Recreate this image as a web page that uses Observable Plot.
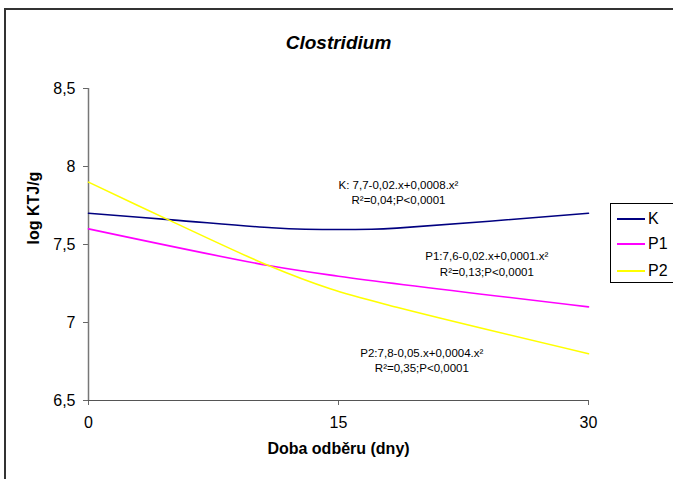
<!DOCTYPE html>
<html>
<head>
<meta charset="utf-8">
<script src="https://cdn.jsdelivr.net/npm/d3@7"></script>
<script src="https://cdn.jsdelivr.net/npm/@observablehq/plot@0.6"></script>
<style>
  html, body { margin: 0; padding: 0; background: #fff; }
  #wrap { position: relative; width: 673px; height: 479px; overflow: hidden; font-family: "Liberation Sans", Arial, sans-serif; }
  #border { position: absolute; left: 4px; top: 8px; width: 700px; height: 500px; border-left: 2px solid #333; border-top: 2px solid #333; box-sizing: border-box; pointer-events: none; }
  #legend { position: absolute; left: 610px; top: 203px; width: 80px; height: 80px; border: 1px solid #000; box-sizing: border-box; background: #fff; font-size: 16px; }
  .item { position: absolute; left: 6px; height: 20px; display: flex; align-items: center; }
  .swatch { width: 28px; height: 0; border-top: 2px solid; margin-right: 3px; }
</style>
</head>
<body>
<div id="wrap">
  <div id="chart"></div>
  <div id="border"></div>
  <div id="legend"></div>
</div>
<script>
// Series data (x = days, y = log KTJ/g)
const seriesNames = ["K", "P1", "P2"];
const seriesColors = ["#000080", "#FF00FF", "#FFFF00"];
const kDays = [0, 5, 11, 13, 17, 18.5, 30];
const kValues = [7.70, 7.658, 7.607, 7.598, 7.598, 7.605, 7.70];
const p1Days = [0, 10.8, 15, 30];
const p1Values = [7.60, 7.365, 7.297, 7.10];
const p2Days = [0, 4.8, 10.8, 14.5, 18.5, 30];
const p2Values = [7.90, 7.658, 7.365, 7.216, 7.098, 6.80];
const xTicks = [0, 15, 30];
const yTicks = [6.5, 7, 7.5, 8, 8.5];
const titleText = "Clostridium";
const xLabel = "Doba odběru (dny)";
const yLabel = "log KTJ/g";
// Regression annotations (anchor in data units)
const noteText = [
  "K: 7,7-0,02.x+0,0008.x²\nR²=0,04;P<0,0001",
  "P1:7,6-0,02.x+0,0001.x²\nR²=0,13;P<0,0001",
  "P2:7,8-0,05.x+0,0004.x²\nR²=0,35;P<0,0001"
];
const noteX = [18.6, 23.9, 20.0];
const noteY = [7.84, 7.381, 6.763];

const rows = [];
[[kDays, kValues], [p1Days, p1Values], [p2Days, p2Values]].forEach(([xs, ys], i) => {
  xs.forEach((x, j) => rows.push({series: seriesNames[i], x, y: ys[j]}));
});
const notes = noteText.map((t, i) => ({t, x: noteX[i], y: noteY[i]}));
const fmt = d => String(d).replace(".", ",");

const chart = Plot.plot({
  width: 673,
  height: 479,
  marginLeft: 88,
  marginRight: 85,
  marginTop: 88,
  marginBottom: 79,
  style: {fontFamily: '"Liberation Sans", Arial, sans-serif', fontSize: "16px", background: "transparent", color: "#000"},
  x: {domain: [0, 30], ticks: xTicks, tickFormat: fmt, label: null},
  y: {domain: [6.5, 8.5], ticks: yTicks, tickFormat: fmt, label: null},
  color: {domain: seriesNames, range: seriesColors},
  marks: [
    Plot.axisX({ticks: xTicks, tickFormat: fmt, tickSize: 5, tickPadding: 11, stroke: "#666", fill: "#000", label: null, fontSize: 16}),
    Plot.axisY({ticks: yTicks, tickFormat: fmt, tickSize: 5, tickPadding: 8, stroke: "#666", fill: "#000", label: null, fontSize: 16}),
    Plot.ruleY([6.5], {stroke: "#555", strokeWidth: 1.2}),
    Plot.ruleX([0], {stroke: "#777", strokeWidth: 1.5}),
    Plot.line(rows, {x: "x", y: "y", z: "series", stroke: "series", strokeWidth: 1.6, curve: "catmull-rom"}),
    Plot.text(notes, {x: "x", y: "y", text: "t", fontSize: 11.5, lineHeight: 1.38, fill: "#000"}),
    Plot.text([titleText], {frameAnchor: "top", dy: -53, fontSize: 19, fontWeight: "bold", fontStyle: "italic", fill: "#000"}),
    Plot.text([xLabel], {frameAnchor: "bottom", dy: 53, fontSize: 16, fontWeight: "bold", fill: "#000"}),
    Plot.text([yLabel], {frameAnchor: "left", dx: -55, rotate: -90, fontSize: 16, fontWeight: "bold", fill: "#000"})
  ]
});
document.getElementById("chart").appendChild(chart);

// Legend
const legend = document.getElementById("legend");
const tops = [5, 30, 57];
seriesNames.forEach((name, i) => {
  const item = document.createElement("div");
  item.className = "item";
  item.style.top = tops[i] + "px";
  const sw = document.createElement("span");
  sw.className = "swatch";
  sw.style.borderTopColor = seriesColors[i];
  item.appendChild(sw);
  item.appendChild(document.createTextNode(name));
  legend.appendChild(item);
});
</script>
</body>
</html>
